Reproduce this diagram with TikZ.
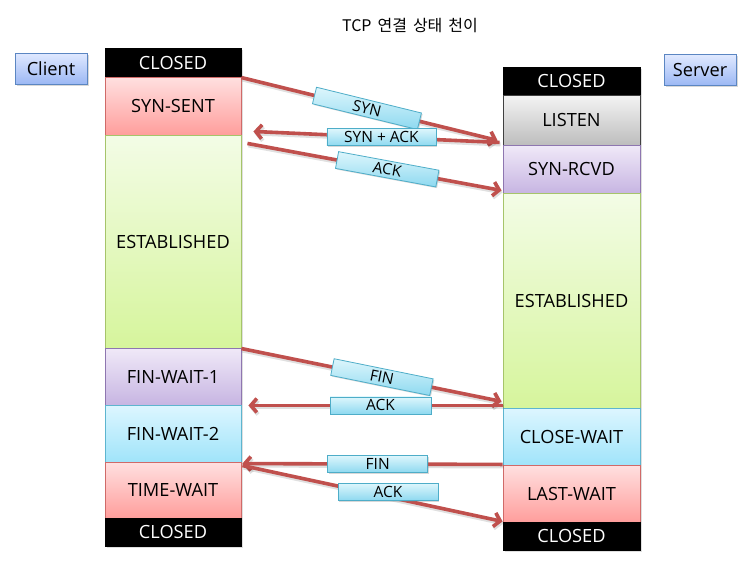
\documentclass[tikz,border=0pt]{standalone}
\usepackage{fontspec}
\setmainfont{Open Sans}
\newfontfamily\krfont{Noto Sans CJK KR}
\usetikzlibrary{arrows.meta,shadows}
\definecolor{arrowred}{HTML}{C0504D}
\definecolor{pinkline}{HTML}{D06A68}
\definecolor{pinktop}{HTML}{FFE0E0}
\definecolor{pinkbot}{HTML}{FF9E9C}
\definecolor{greenline}{HTML}{A6C46A}
\definecolor{greentop}{HTML}{F3FCE6}
\definecolor{greenbot}{HTML}{D6F59C}
\definecolor{purpleline}{HTML}{8E76B0}
\definecolor{purpletop}{HTML}{F0E9F8}
\definecolor{purplebot}{HTML}{C7B5E2}
\definecolor{cyanline}{HTML}{5DB5CF}
\definecolor{cyantop}{HTML}{DDF6FF}
\definecolor{cyanbot}{HTML}{A0E4FA}
\definecolor{grayline}{HTML}{404040}
\definecolor{graytop}{HTML}{F4F4F4}
\definecolor{graybot}{HTML}{BDBDBD}
\definecolor{blueline}{HTML}{5B86C2}
\definecolor{bluetop}{HTML}{E0E9FF}
\definecolor{bluebot}{HTML}{9CB8F4}
\definecolor{msgline}{HTML}{4EADC8}
\definecolor{msgtop}{HTML}{DDF6FC}
\definecolor{msgbot}{HTML}{8ED9F0}
\begin{document}
\begin{tikzpicture}[x=1pt,y=-1pt,
  col/.style={draw, inner sep=0pt, line width=0.9pt, font=\fontsize{18.2}{21}\selectfont, text=black,
    drop shadow={shadow xshift=1.5pt, shadow yshift=-1.5pt, opacity=0.25}},
  closedst/.style={col, fill=black, text=white},
  pinkst/.style={col, draw=pinkline, top color=pinktop, bottom color=pinkbot},
  greenst/.style={col, draw=greenline, top color=greentop, bottom color=greenbot},
  purplest/.style={col, draw=purpleline, top color=purpletop, bottom color=purplebot},
  cyanst/.style={col, draw=cyanline, top color=cyantop, bottom color=cyanbot},
  grayst/.style={col, draw=grayline, top color=graytop, bottom color=graybot},
  party/.style={draw=blueline, line width=0.9pt, top color=bluetop, bottom color=bluebot, inner sep=0pt,
    minimum width=72pt, minimum height=31pt, font=\fontsize{18.2}{21}\selectfont,
    drop shadow={shadow xshift=1.5pt, shadow yshift=-1.5pt, opacity=0.3}},
  msg/.style={draw=msgline, line width=0.8pt, top color=msgtop, bottom color=msgbot, inner sep=0pt,
    minimum height=17pt, font=\fontsize{15.5}{16}\selectfont,
    drop shadow={shadow xshift=1.2pt, shadow yshift=-1.2pt, opacity=0.3}},
  flow/.style={draw=arrowred, line width=3.6pt, -{Straight Barb[length=6pt,width=14pt]},
    preaction={draw=black, opacity=0.12, line width=4pt, transform canvas={xshift=1pt,yshift=-2pt}}}
]
\useasboundingbox (0,0) rectangle (747,563);
\fill[white] (0,0) rectangle (747,563);

\node[font=\krfont\fontsize{16}{18}\selectfont] (title) at (410,26) {TCP\hspace{6pt}연결\hspace{6pt}상태\hspace{6pt}천이};

\node[party] (client) at (51,68.5) {Client};
\node[party] (server) at (700,70) {Server};

% client column
\node[closedst, minimum width=136pt, minimum height=29pt] (closedL1) at (173,62.5) {CLOSED};
\node[pinkst, minimum width=136pt, minimum height=58pt] (synsent) at (173,106) {SYN-SENT};
\node[greenst, minimum width=136pt, minimum height=213pt] (estabL) at (173,241.5) {ESTABLISHED};
\node[purplest, minimum width=136pt, minimum height=57pt] (finwait1) at (173,376.5) {FIN-WAIT-1};
\node[cyanst, minimum width=136pt, minimum height=57pt] (finwait2) at (173,433.5) {FIN-WAIT-2};
\node[pinkst, minimum width=136pt, minimum height=56pt] (timewait) at (173,490) {TIME-WAIT};
\node[closedst, minimum width=136pt, minimum height=28pt] (closedL2) at (173,532) {CLOSED};

% server column
\node[closedst, minimum width=137pt, minimum height=28pt] (closedR1) at (571.5,81) {CLOSED};
\node[grayst, minimum width=137pt, minimum height=50pt] (listen) at (571.5,120) {LISTEN};
\node[purplest, minimum width=137pt, minimum height=48pt] (synrcvd) at (571.5,169) {SYN-RCVD};
\node[greenst, minimum width=137pt, minimum height=215pt] (estabR) at (571.5,300.5) {ESTABLISHED};
\node[cyanst, minimum width=137pt, minimum height=57pt] (closewait) at (571.5,436.5) {CLOSE-WAIT};
\node[pinkst, minimum width=137pt, minimum height=57pt] (lastwait) at (571.5,493.5) {LAST-WAIT};
\node[closedst, minimum width=137pt, minimum height=28pt] (closedR2) at (571.5,536) {CLOSED};

% messages
\draw[flow] ([yshift=-1pt]synsent.north east) -- ([xshift=-5pt,yshift=5pt]listen.south west)
  node[msg, sloped, pos=0.49, minimum width=108pt] (msyn) {SYN};
\draw[flow] ([xshift=-3pt,yshift=3pt]listen.south west) -- ([xshift=12pt,yshift=4pt]synsent.south east)
  node[msg, pos=0.48, minimum width=109pt] (msynack) {SYN + ACK};
\draw[flow] ([xshift=6pt,yshift=-8pt]synsent.south east) -- ([xshift=-1pt,yshift=3pt]synrcvd.south west)
  node[msg, sloped, pos=0.55, minimum width=102pt] (mack1) {ACK};
\draw[flow] ([yshift=-1pt]finwait1.north east) -- ([xshift=-1pt,yshift=7pt]estabR.south west)
  node[msg, sloped, pos=0.54, minimum width=101pt] (mfin1) {FIN};
\draw[flow] ([yshift=3pt]estabR.south west) -- ([xshift=7pt]finwait1.south east)
  node[msg, pos=0.48, minimum width=101pt] (mack2) {ACK};
\draw[flow] ([yshift=1pt]closewait.south west) -- ([xshift=1pt,yshift=-2pt]timewait.north east)
  node[msg, pos=0.48, minimum width=100pt] (mfin2) {FIN};
\draw[flow] ([xshift=1pt,yshift=-4pt]timewait.north east) -- ([yshift=1pt]lastwait.south west)
  node[msg, pos=0.56, yshift=5pt, minimum width=100pt] (mack3) {ACK};
\end{tikzpicture}
\end{document}
